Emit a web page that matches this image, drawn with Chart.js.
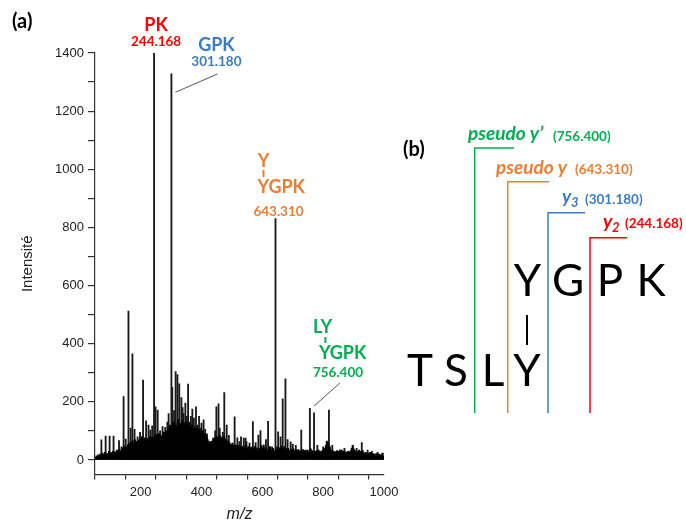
<!DOCTYPE html>
<html>
<head>
<meta charset="utf-8">
<script src="https://cdn.jsdelivr.net/npm/chart.js@4.4.1/dist/chart.umd.min.js"></script>
<style>
  html, body { margin: 0; padding: 0; background: #fff; }
  #wrap { position: relative; width: 686px; height: 524px; }
</style>
</head>
<body>
<div id="wrap"><canvas id="spectrum" width="686" height="524"></canvas></div>
<script>
// Major fragment peaks: [m/z, intensity]
const majorPeaks = [
  [71, 69], [85, 82], [98, 82], [111, 82], [129, 67], [137, 45], [144, 218], [151, 72],
  [160, 512], [167, 110], [173, 365], [180, 105], [190, 80], [198, 95], [208, 275], [218, 135],
  [226, 120], [232, 103], [238, 117], [244.168, 1400], [249, 183], [256, 172], [262, 90],
  [264, 100], [272, 115], [281, 112], [288, 130], [292, 160], [301.18, 1328], [304, 250],
  [310, 170], [315, 304], [321, 294], [327, 262], [334, 215], [338, 180], [341, 160],
  [347, 196], [352, 150], [356, 261], [361, 130], [365, 150], [370, 175], [375, 144],
  [382, 183], [388, 120], [392, 150], [396, 110], [400, 127], [407, 138], [412, 105],
  [418, 90], [427, 63], [438, 75], [445, 100], [449, 183], [456, 193], [460, 110], [466, 79],
  [470, 95], [475, 232], [483, 120], [490, 85], [499, 52], [509, 148], [518, 76], [525, 63],
  [530, 80], [539, 75], [545, 75], [548, 63], [558, 58], [569, 132], [578, 60], [587, 86],
  [594, 101], [605, 52], [612, 70], [619, 133], [632, 45], [643.31, 830], [652, 97],
  [660, 80], [667, 210], [676, 279], [683, 70], [693, 62], [700, 55], [710, 50], [728, 103],
  [743, 34], [756.4, 178], [770, 162], [781, 50], [800, 45], [815, 60], [819, 172], [830, 50],
  [855, 35], [870, 40], [898, 46], [910, 40], [927, 60], [946, 34], [960, 30], [979, 26], [996, 24]
];

// Low-intensity background peaks (the dense "grass")
const noisePeaks = [
  [52,8],[55,14],[58,10],[61,18],[64,12],[67,20],[69,14],[73,24],[76,13],[79,20],[82,26],[87,18],
  [90,22],[93,15],[96,30],[100,20],[103,25],[106,18],[109,30],[113,22],[116,28],[119,20],[122,34],
  [125,26],[129,36],[132,28],[136,32],[139,42],[142,30],[145,38],[147,48],[149,36],[151,44],
  [153,42],[156,34],[158,52],[160,46],[162,44],[164,58],[165,56],[167,48],[168,50],[170,62],
  [171,64],[173,50],[175,48],[177,58],[178,56],[180,68],[181,70],[183,54],[184,52],[186,64],
  [187,60],[189,50],[190,48],[192,66],[193,68],[195,56],[196,54],[198,72],[199,72],[201,60],
  [202,58],[204,80],[205,80],[207,66],[209,70],[211,64],[212,68],[214,76],[216,70],[218,66],
  [220,68],[221,62],[223,56],[225,74],[226,74],[228,64],[229,62],[231,80],[233,80],[234,70],
  [236,70],[238,76],[240,76],[241,68],[242,64],[244,78],[246,82],[248,74],[251,70],[252,84],
  [253,88],[255,78],[258,76],[259,86],[261,90],[263,72],[266,68],[267,80],[269,84],[271,76],
  [274,74],[275,90],[277,96],[279,86],[282,80],[283,94],[285,100],[287,90],[288,86],[290,98],
  [291,105],[293,96],[294,90],[296,112],[297,120],[299,100],[302,110],[304,110],[306,118],
  [307,130],[309,105],[311,120],[312,125],[314,110],[316,112],[318,115],[320,118],[322,130],
  [324,140],[326,120],[328,118],[330,120],[332,126],[334,115],[336,135],[337,120],[339,110],
  [341,120],[342,128],[344,112],[345,105],[347,118],[350,130],[351,118],[353,115],[355,108],
  [357,122],[359,125],[360,110],[362,108],[364,100],[366,112],[368,120],[369,104],[371,102],
  [373,96],[375,108],[378,115],[379,100],[381,98],[383,94],[384,106],[386,110],[387,98],
  [389,95],[391,105],[393,92],[395,88],[397,92],[399,86],[401,96],[403,100],[405,86],[406,85],
  [408,80],[410,88],[411,90],[413,76],[414,75],[416,70],[417,82],[419,72],[420,68],[422,62],
  [423,60],[425,52],[428,48],[430,55],[432,60],[433,65],[435,58],[436,58],[438,62],[441,70],
  [442,68],[444,76],[446,70],[447,68],[450,74],[452,80],[454,72],[455,72],[457,78],[460,85],
  [461,76],[463,70],[465,68],[467,72],[469,76],[470,66],[472,62],[474,74],[475,80],[477,70],
  [480,70],[481,62],[483,58],[486,65],[487,58],[489,55],[491,52],[492,60],[494,54],[495,50],
  [498,46],[500,52],[502,58],[504,50],[505,48],[508,46],[510,50],[512,52],[514,44],[515,45],
  [518,40],[521,50],[524,42],[526,38],[528,42],[531,48],[534,40],[537,46],[540,36],[542,38],
  [545,50],[548,36],[551,40],[554,46],[557,34],[561,38],[564,44],[567,36],[570,32],[572,40],
  [575,46],[578,38],[581,42],[584,35],[587,32],[591,40],[594,36],[597,50],[600,38],[603,44],
  [606,30],[608,36],[611,42],[614,34],[618,30],[622,40],[625,46],[628,36],[631,30],[635,40],
  [638,32],[641,28],[646,38],[649,45],[651,30],[654,34],[658,42],[661,36],[664,48],[667,34],
  [670,40],[673,46],[676,32],[679,38],[682,34],[685,40],[688,32],[692,28],[696,36],[699,30],
  [702,38],[705,32],[708,28],[712,34],[715,30],[718,36],[721,28],[724,32],[727,24],[731,30],
  [734,36],[737,28],[740,32],[743,24],[746,26],[749,34],[752,28],[755,22],[759,38],[763,32],
  [766,28],[769,24],[773,30],[776,26],[779,32],[782,28],[785,34],[788,26],[791,30],[794,25],
  [797,32],[800,28],[803,36],[806,40],[809,50],[812,65],[814,58],[816,60],[818,52],[822,45],
  [825,34],[828,28],[831,32],[834,26],[837,30],[840,24],[843,28],[846,32],[849,26],[852,30],
  [855,24],[858,28],[861,34],[864,26],[867,30],[870,24],[873,28],[876,22],[879,26],[882,30],
  [885,24],[888,28],[891,32],[894,40],[897,50],[900,38],[903,34],[906,26],[909,30],[912,24],
  [915,28],[918,34],[921,26],[924,30],[927,28],[930,32],[933,24],[936,20],[939,26],[942,18],
  [945,22],[949,24],[952,18],[955,26],[958,20],[961,14],[964,22],[967,16],[970,20],[973,14],
  [976,22],[979,18],[982,16],[985,20],[988,14],[991,16],[994,22],[998,12]
];

const xTickValues = [100, 200, 300, 400, 500, 600, 700, 800, 900, 1000];
const yTickValues = [0, 100, 200, 300, 400, 500, 600, 700, 800, 900, 1000, 1100, 1200, 1300, 1400];

const RED = '#ff0000', BLUE = '#3b7dc4', ORANGE = '#ed7d31', GREEN = '#00b050';
const LAB = 'Lato, "Open Sans", sans-serif';

function txt(ctx, s, x, y, font, color, align) {
  ctx.font = font; ctx.fillStyle = color; ctx.textAlign = align || 'left'; ctx.textBaseline = 'alphabetic';
  ctx.fillText(s, x, y);
}
function line(ctx, pts, color, w) {
  ctx.beginPath(); ctx.strokeStyle = color; ctx.lineWidth = w;
  pts.forEach((p, i) => i ? ctx.lineTo(p[0], p[1]) : ctx.moveTo(p[0], p[1]));
  ctx.stroke();
}

const annotations = {
  id: 'annotations',
  afterDraw(chart) {
    const ctx = chart.ctx, xs = chart.scales.x, ys = chart.scales.y;
    ctx.save();
    const B18 = 'bold 18px ' + LAB, B13 = 'bold 13.5px ' + LAB;

    // panel (a) labels
    txt(ctx, '(a)', 12, 28, 'bold 20px ' + LAB, '#000');
    const xPK = xs.getPixelForValue(244.168);
    txt(ctx, 'PK', xPK + 2, 31, B18, RED, 'center');
    txt(ctx, '244.168', xPK + 2, 46, B13, RED, 'center');

    const xGPK = xs.getPixelForValue(301.18);
    txt(ctx, 'GPK', xGPK + 45, 51, B18, BLUE, 'center');
    txt(ctx, '301.180', xGPK + 45, 66, B13, BLUE, 'center');
    line(ctx, [[xGPK + 46, 74], [xGPK + 4, ys.getPixelForValue(1265)]], '#555', 1);

    const xY = xs.getPixelForValue(643.31);
    txt(ctx, 'Y', xY - 12, 167, B18, ORANGE, 'center');
    line(ctx, [[xY - 12, 170], [xY - 12, 177]], ORANGE, 2);
    txt(ctx, 'YGPK', xY - 18, 193, B18, ORANGE);
    txt(ctx, '643.310', xY + 3, 216, B13, ORANGE, 'center');

    const xLY = xs.getPixelForValue(756.4);
    txt(ctx, 'LY', xLY + 3, 333, B18, GREEN);
    line(ctx, [[xLY + 15.5, 337], [xLY + 15.5, 343]], GREEN, 2);
    txt(ctx, 'YGPK', xLY + 9, 359, B18, GREEN);
    txt(ctx, '756.400', xLY + 3, 377, B13, GREEN);
    line(ctx, [[xLY + 30, 383], [xLY + 4, ys.getPixelForValue(185)]], '#555', 1);

    // panel (b): fragmentation scheme
    txt(ctx, '(b)', 403, 156, 'bold 20px ' + LAB, '#000');
    const BI = 'italic bold 19px ' + LAB, BI13 = 'italic bold 13px ' + LAB;
    txt(ctx, 'pseudo y\u2019', 468, 140, BI, GREEN);
    txt(ctx, '(756.400)', 553, 141, B13, GREEN);
    txt(ctx, 'pseudo y', 496, 174, BI, ORANGE);
    txt(ctx, '(643.310)', 575, 174, B13, ORANGE);
    txt(ctx, 'y', 562, 203, BI, BLUE);
    txt(ctx, '3', 571, 207, BI13, BLUE);
    txt(ctx, '(301.180)', 585, 204, B13, BLUE);
    txt(ctx, 'y', 603, 228, BI, RED);
    txt(ctx, '2', 612, 232, BI13, RED);
    txt(ctx, '(244.168)', 625, 228, B13, RED);

    line(ctx, [[514, 148], [474.7, 148], [474.7, 413]], GREEN, 1.5);
    line(ctx, [[549, 181.7], [507.7, 181.7], [507.7, 413]], ORANGE, 1.5);
    line(ctx, [[585, 212.7], [548, 212.7], [548, 413]], BLUE, 1.5);
    line(ctx, [[627, 237.7], [590, 237.7], [590, 413]], RED, 1.5);

    const BIG = '44px ' + LAB;
    [['Y', 527.5], ['G', 568], ['P', 610], ['K', 651]].forEach(([c, x]) => txt(ctx, c, x, 296, BIG, '#000', 'center'));
    [['T', 420], ['S', 456], ['L', 493], ['Y', 527]].forEach(([c, x]) => txt(ctx, c, x, 386, BIG, '#000', 'center'));
    line(ctx, [[527, 315], [527, 345]], '#000', 2);
    ctx.restore();
  }
};

const tickFont = { family: '"Liberation Sans", Arial, sans-serif', size: 13 };

new Chart(document.getElementById('spectrum'), {
  type: 'bar',
  data: {
    datasets: [
      { data: noisePeaks.map(([x, y]) => ({ x, y })), backgroundColor: '#000', barThickness: 1.4, grouped: false },
      { data: majorPeaks.map(([x, y]) => ({ x, y })), backgroundColor: '#1a1a1a', barThickness: 1.2, grouped: false }
    ]
  },
  options: {
    responsive: false,
    animation: false,
    layout: { padding: { top: 53, right: 302, left: 0, bottom: 0 } },
    plugins: { legend: { display: false }, tooltip: { enabled: false } },
    scales: {
      x: {
        type: 'linear', min: 50, max: 1000, offset: false,
        afterBuildTicks: s => { s.ticks = xTickValues.map(v => ({ value: v })); },
        afterFit: s => { s.height = 49.5; },
        ticks: { autoSkip: false, maxRotation: 0, padding: 5, color: '#222', font: tickFont,
                 callback: v => (v % 200 === 0 ? v : '') },
        grid: { drawOnChartArea: false, tickLength: 5, color: '#333', lineWidth: 1.2 },
        border: { color: '#333', width: 1.2 },
        title: { display: true, text: 'm/z', color: '#222', padding: { top: 0, bottom: 0 },
                 font: { family: '"Liberation Sans", Arial, sans-serif', size: 16, style: 'italic' } }
      },
      y: {
        min: -50, max: 1400,
        afterBuildTicks: s => { s.ticks = yTickValues.map(v => ({ value: v })); },
        afterFit: s => { s.width = 95; },
        ticks: { autoSkip: false, padding: 4, color: '#222', font: tickFont,
                 callback: v => (v % 200 === 0 ? v : '') },
        grid: { drawOnChartArea: false, tickLength: 7, color: '#333', lineWidth: 1.2 },
        border: { color: '#333', width: 1.2 },
        title: { display: true, text: 'Intensité', color: '#222', padding: { top: 19, bottom: 0 },
                 font: { family: '"Liberation Sans", Arial, sans-serif', size: 15 } }
      }
    }
  },
  plugins: [annotations]
});
</script>
</body>
</html>
